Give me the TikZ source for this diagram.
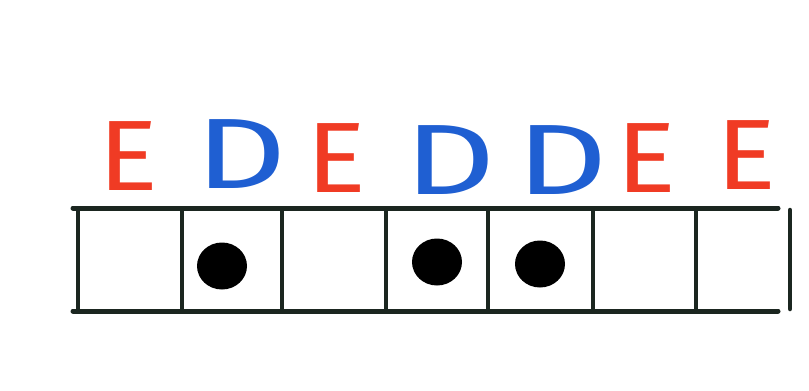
\documentclass[tikz,border=0pt]{standalone}
\usepackage{fontspec}
\setmainfont{Fira Sans}
\usetikzlibrary{shapes.geometric}
\definecolor{mred}{HTML}{F03B24}
\definecolor{mblue}{HTML}{1F5FD2}
\definecolor{ink}{HTML}{1B2620}
\begin{document}
\begin{tikzpicture}[x=1pt,y=-1pt,
  letter/.style={inner sep=0pt,font=\fontsize{100}{100}\selectfont},
  eletter/.style={letter,text=mred,xscale=1.12},
  dletter/.style={letter,text=mblue,xscale=1.42},
  gridline/.style={draw=ink,line width=5pt,line cap=round},
  dot/.style={ellipse,fill=black,minimum width=50pt,minimum height=47pt,inner sep=0pt}]
\useasboundingbox[fill=white] (0,0) rectangle (809,391);
% letters
\node[eletter] (l1) at (128,156) {E};
\node[dletter] (l2) at (241,154) {D};
\node[eletter] (l3) at (336,158) {E};
\node[dletter] (l4) at (450,160) {D};
\node[dletter] (l5) at (562,160) {D};
\node[eletter] (l6) at (646,158) {E};
\node[eletter] (l7) at (746,155) {E};
% grid corners
\coordinate (tl) at (73,208);
\coordinate (tr) at (778,208);
\coordinate (bl) at (73,311);
\coordinate (br) at (778,311);
\draw[gridline] (tl) -- (tr);
\draw[gridline] (bl) -- (br);
\foreach \x/\n in {78/v0,182/v1,282/v2,386/v3,488/v4,593/v5,696/v6,790/v7}{
  \coordinate (\n t) at (\x,210);
  \coordinate (\n b) at (\x,309);
  \draw[gridline,line width=4.5pt] (\n t) -- (\n b);
}
% dots
\node[dot] (d1) at (222,266) {};
\node[dot] (d2) at (437,262) {};
\node[dot] (d3) at (540,264) {};
\end{tikzpicture}
\end{document}
